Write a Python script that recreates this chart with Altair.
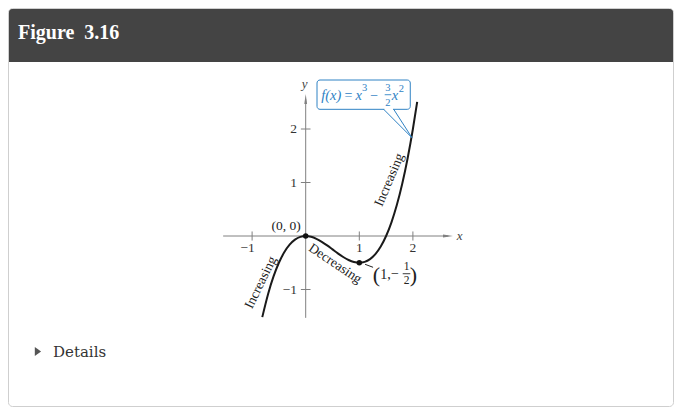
import altair as alt
import pandas as pd

# ---- data ----
curve_x = [-0.81, -0.7, -0.6, -0.5, -0.4, -0.3, -0.2, -0.1, 0.0, 0.1, 0.2, 0.3, 0.4, 0.5,
           0.6, 0.7, 0.8, 0.9, 1.0, 1.1, 1.2, 1.3, 1.4, 1.5, 1.6, 1.7, 1.8, 1.9, 2.0, 2.08]
curve_y = [-1.516, -1.078, -0.756, -0.5, -0.304, -0.162, -0.068, -0.016, 0.0, -0.014, -0.052,
           -0.108, -0.176, -0.25, -0.324, -0.392, -0.448, -0.486, -0.5, -0.484, -0.432, -0.338,
           -0.196, 0.0, 0.256, 0.578, 0.972, 1.444, 2.0, 2.509]

x_tick_vals = [-1, 1, 2]
x_tick_labels = ["\u22121", "1", "2"]
y_tick_vals = [-1, 1, 2]
y_tick_labels = ["\u22121", "1", "2"]

crit_x = [0, 1]
crit_y = [0, -0.5]

title_text = "Figure\u00a0\u00a03.16"
details_text = "Details"

W, H = 666, 399

# ---- scales (math coordinates) ----
xs = alt.Scale(domain=[-5.554, (W - 297.7) / 53.6], nice=False, zero=False)
ys = alt.Scale(domain=[(228 - H) / 53.5, 4.262], nice=False, zero=False)
X = lambda f="x": alt.X(f"{f}:Q", scale=xs, axis=None)
Y = lambda f="y": alt.Y(f"{f}:Q", scale=ys, axis=None)

dummy = pd.DataFrame({"a": [0]})
AX = "#808080"
BLUE = "#2f82c4"
SERIF = "Liberation Serif"

layers = []

# card and header
layers.append(alt.Chart(dummy).mark_rect(fill="white", stroke="#cfcfcf", strokeWidth=1,
                                         cornerRadius=4).encode(
    x=alt.value(0.5), x2=alt.value(W - 0.5), y=alt.value(0.5), y2=alt.value(H - 0.5)))
layers.append(alt.Chart(dummy).mark_rect(fill="#444444", cornerRadiusTopLeft=3,
                                         cornerRadiusTopRight=3).encode(
    x=alt.value(1), x2=alt.value(W - 1), y=alt.value(1), y2=alt.value(54)))
layers.append(alt.Chart(pd.DataFrame({"t": [title_text]})).mark_text(
    font=SERIF, fontSize=20, fontWeight="bold", color="white", align="left",
    baseline="middle").encode(x=alt.value(10), y=alt.value(25), text="t:N"))

# details row
layers.append(alt.Chart(dummy).mark_point(shape="M-0.6,-1L0.8,0L-0.6,1Z", size=80, filled=True,
                                          color="#555555", opacity=1, strokeWidth=0).encode(
    x=alt.value(29.5), y=alt.value(343.5)))
layers.append(alt.Chart(pd.DataFrame({"t": [details_text]})).mark_text(
    font="DejaVu Serif", fontSize=15, color="#333333", align="left",
    baseline="middle").encode(x=alt.value(45), y=alt.value(343.5), text="t:N"))

# axes
layers.append(alt.Chart(pd.DataFrame({"x": [-1.54], "x2": [2.66], "y": [0]})).mark_rule(
    color=AX, strokeWidth=1).encode(x=X(), x2="x2:Q", y=Y()))
layers.append(alt.Chart(pd.DataFrame({"x": [0], "y": [-1.53], "y2": [2.56]})).mark_rule(
    color=AX, strokeWidth=1).encode(x=X(), y=Y(), y2="y2:Q"))
layers.append(alt.Chart(pd.DataFrame({"x": [2.655], "y": [0]})).mark_point(
    shape="M-1,-0.28L1,0L-1,0.28Z", size=100, filled=True, color=AX, opacity=1,
    strokeWidth=0).encode(x=X(), y=Y()))
layers.append(alt.Chart(pd.DataFrame({"x": [0], "y": [2.56]})).mark_point(
    shape="M-0.28,1L0,-1L0.28,1Z", size=100, filled=True, color=AX, opacity=1,
    strokeWidth=0).encode(x=X(), y=Y()))

# ticks
xt = pd.DataFrame({"x": x_tick_vals, "y": [-0.085] * 3, "y2": [0.085] * 3, "t": x_tick_labels})
yt = pd.DataFrame({"y": y_tick_vals, "x": [-0.09] * 3, "x2": [0.09] * 3, "t": y_tick_labels})
layers.append(alt.Chart(xt).mark_rule(color=AX, strokeWidth=1).encode(x=X(), y=Y(), y2="y2:Q"))
layers.append(alt.Chart(yt).mark_rule(color=AX, strokeWidth=1).encode(x=X(), x2="x2:Q", y=Y()))

TICK_FS = 13.5
xl = pd.DataFrame({"x": [-0.95, 1, 2], "y": [-0.23] * 3, "t": x_tick_labels,
                   "al": ["right", "center", "center"]})
layers.append(alt.Chart(xl[xl.al == "right"]).mark_text(
    font=SERIF, fontSize=TICK_FS, color="#333", align="right", baseline="middle").encode(
    x=X(), y=Y(), text="t:N"))
layers.append(alt.Chart(xl[xl.al == "center"]).mark_text(
    font=SERIF, fontSize=TICK_FS, color="#333", align="center", baseline="middle").encode(
    x=X(), y=Y(), text="t:N"))
yl = pd.DataFrame({"x": [-0.16] * 3, "y": y_tick_vals, "t": y_tick_labels})
layers.append(alt.Chart(yl).mark_text(
    font=SERIF, fontSize=TICK_FS, color="#333", align="right", baseline="middle").encode(
    x=X(), y=Y(), text="t:N"))

# axis names
layers.append(alt.Chart(pd.DataFrame({"x": [2.82], "y": [0.0], "t": ["x"]})).mark_text(
    font=SERIF, fontSize=13, fontStyle="italic", color="#444", align="left",
    baseline="middle").encode(x=X(), y=Y(), text="t:N"))
layers.append(alt.Chart(pd.DataFrame({"x": [-0.02], "y": [2.84], "t": ["y"]})).mark_text(
    font=SERIF, fontSize=13, fontStyle="italic", color="#444", align="center",
    baseline="middle").encode(x=X(), y=Y(), text="t:N"))

# curve
layers.append(alt.Chart(pd.DataFrame({"x": curve_x, "y": curve_y})).mark_line(
    color="#1a1a1a", strokeWidth=2, interpolate="monotone").encode(x=X(), y=Y(), order="x:Q"))

# critical points
layers.append(alt.Chart(pd.DataFrame({"x": crit_x, "y": crit_y})).mark_point(
    filled=True, size=30, color="#111", opacity=1).encode(x=X(), y=Y()))

# labels
def label(x, y, t, size=12.5, angle=0, align="center", style="normal", color="#222"):
    kw = dict(font=SERIF, fontSize=size, color=color, align=align, baseline="middle",
              fontStyle=style)
    if angle:
        kw["angle"] = angle
    return alt.Chart(pd.DataFrame({"x": [x], "y": [y], "t": [t]})).mark_text(**kw).encode(
        x=X(), y=Y(), text="t:N")

layers.append(label(-0.367, 0.18, "(0, 0)", size=13.5))
layers.append(label(-0.84, -0.87, "Increasing", size=13.5, angle=296))
layers.append(label(0.55, -0.515, "Decreasing", size=13.5, angle=34))
layers.append(label(1.56, 1.05, "Increasing", size=13.5, angle=293))

# (1, -1/2) label
layers.append(alt.Chart(pd.DataFrame({"x": [1.108], "y": [-0.529], "x2": [1.257],
                                      "y2": [-0.585]})).mark_rule(
    color="#222", strokeWidth=1).encode(x=X(), y=Y(), x2="x2:Q", y2="y2:Q"))
layers.append(label(1.321, -0.72, "(", size=22))
layers.append(label(1.39, -0.73, "1,", size=14, align="left"))
layers.append(label(1.665, -0.71, "\u2212", size=14))
layers.append(label(1.881, -0.585, "1", size=11.5))
layers.append(label(1.881, -0.84, "2", size=11.5))
layers.append(alt.Chart(pd.DataFrame({"x": [1.81], "x2": [1.952], "y": [-0.705]})).mark_rule(
    color="#222", strokeWidth=0.9).encode(x=X(), x2="x2:Q", y=Y()))
layers.append(label(2.01, -0.72, ")", size=22))

# callout box
layers.append(alt.Chart(pd.DataFrame({"x": [0.211], "x2": [1.951], "y": [2.916],
                                      "y2": [2.368]})).mark_rect(
    fill="white", stroke=BLUE, strokeWidth=1, cornerRadius=3).encode(
    x=X(), x2="x2:Q", y=Y(), y2="y2:Q"))
layers.append(alt.Chart(pd.DataFrame({"x": [1.468], "x2": [1.630], "y": [2.368]})).mark_rule(
    color="white", strokeWidth=2.5).encode(x=X(), x2="x2:Q", y=Y()))
layers.append(alt.Chart(pd.DataFrame({"x": [1.455, 1.642], "y": [2.368, 2.368],
                                      "x2": [1.983, 1.983], "y2": [1.837, 1.837]})).mark_rule(
    color=BLUE, strokeWidth=1).encode(x=X(), y=Y(), x2="x2:Q", y2="y2:Q"))

layers.append(label(0.29, 2.62, "f(x)", size=14.5, align="left", style="italic", color=BLUE))
layers.append(label(0.80, 2.62, "=", size=14, color=BLUE))
layers.append(label(0.93, 2.62, "x", size=14.5, align="left", style="italic", color=BLUE))
layers.append(label(1.05, 2.76, "3", size=10.5, align="left", color=BLUE))
layers.append(label(1.28, 2.62, "\u2212", size=14, color=BLUE))
layers.append(label(1.535, 2.775, "3", size=10.5, color=BLUE))
layers.append(label(1.535, 2.485, "2", size=10.5, color=BLUE))
layers.append(alt.Chart(pd.DataFrame({"x": [1.474], "x2": [1.597], "y": [2.641]})).mark_rule(
    color=BLUE, strokeWidth=0.9).encode(x=X(), x2="x2:Q", y=Y()))
layers.append(label(1.605, 2.62, "x", size=14.5, align="left", style="italic", color=BLUE))
layers.append(label(1.735, 2.745, "2", size=10.5, align="left", color=BLUE))

chart = alt.layer(*layers).properties(
    width=W, height=H, padding=0, autosize="none", background="white"
).configure_view(stroke=None)

chart.save("out.html", embed_options={"renderer": "svg", "actions": False})
